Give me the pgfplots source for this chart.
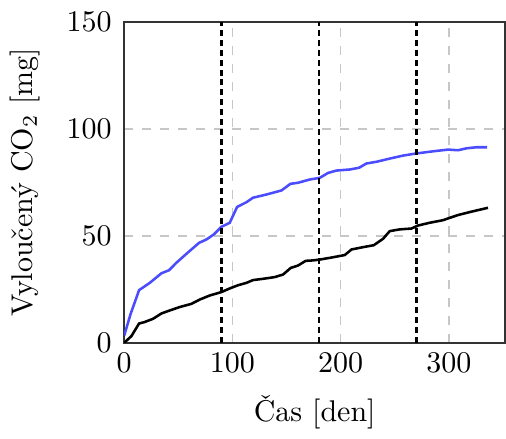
\documentclass[border=0pt]{standalone}
\usepackage{pgfplots}
\pgfplotsset{compat=1.18}
\begin{document}
\begin{tikzpicture}
\begin{axis}[
  scale only axis,
  width=127pt, height=107pt,
  xmin=0, xmax=352, ymin=0, ymax=150,
  xtick={0,100,200,300}, ytick={0,50,100,150},
  major tick length=0pt,
  grid=major,
  grid style={dashed, black!22, line width=0.5pt},
  axis line style={line width=0.6pt, black!80},
  xlabel={Čas [den]},
  ylabel={Vyloučený CO$_2$ [mg]},
  ylabel shift=2pt,
  yticklabel shift=0.7pt,
  xlabel shift=0.6pt,
  clip=true,
]
\addplot[blue!70, line width=0.85pt] coordinates {
(0,3.4) (5.7,13.2) (13.7,24.6) (23.6,28) (34.4,32.5) (41.4,33.9) (48.2,37.4)
(57.5,41.6) (69.1,46.7) (76,48.3) (82.7,50.6) (89.8,54.2) (97.5,56.1)
(104.3,63.5) (112.9,65.7) (119,67.8) (131.4,69.3) (145.3,71.2) (153.6,74.3)
(160.6,74.8) (171.4,76.3) (180.7,77.1) (188.4,79.4) (196.1,80.5) (208.4,81)
(217,81.8) (223.8,83.8) (233,84.6) (245.4,86.1) (257.7,87.5) (270,88.5)
(285.4,89.5) (299.3,90.3) (308.5,90) (316.3,90.9) (325.5,91.4) (335.3,91.4)
};
\addplot[black, line width=0.85pt] coordinates {
(0,0) (6.6,3.1) (13.7,9.0) (18.9,9.7) (26.6,11.2) (34.4,13.7) (42,15.1)
(51.3,16.7) (62.1,18.2) (69.8,20.2) (79,22.1) (89.8,23.7) (97.5,25.4)
(105.2,26.9) (112.9,28) (119,29.3) (128.3,29.9) (139.1,30.7) (146.8,31.9)
(153.9,35) (160.6,36.1) (167.7,38.3) (174.5,38.5) (180.7,38.9) (190,39.7)
(203.8,41) (210,43.6) (220.7,44.7) (230.6,45.6) (239.2,48.6) (245.4,52.2)
(254.6,53) (265.4,53.4) (271.5,54.8) (282.3,56.1) (294.6,57.3) (300.8,58.4)
(308.5,59.7) (319.3,61.1) (336.2,63.1)
};
\addplot[black, line width=0.9pt, dash pattern=on 2pt off 1.3pt] coordinates {(90,0) (90,150)};
\addplot[black, line width=0.9pt, dash pattern=on 2pt off 1.3pt] coordinates {(180,0) (180,150)};
\addplot[black, line width=0.9pt, dash pattern=on 2pt off 1.3pt] coordinates {(270,0) (270,150)};
\end{axis}
\path ([yshift=7.3pt]current axis.north west);
\end{tikzpicture}
\end{document}
